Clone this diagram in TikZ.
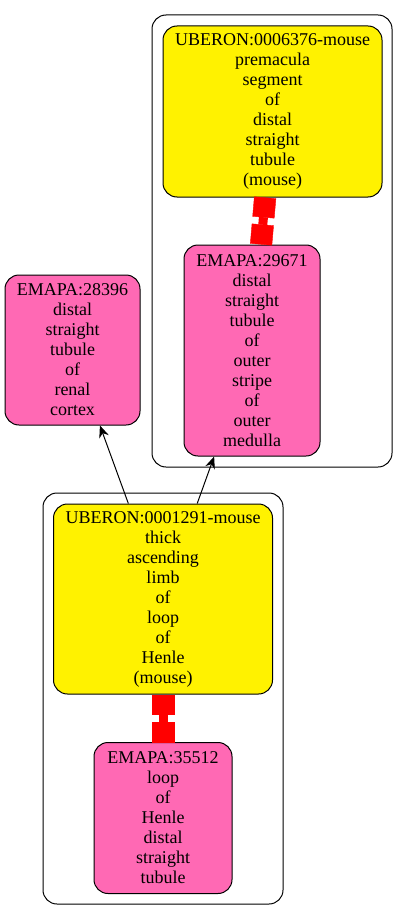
\documentclass[tikz,border=0pt]{standalone}
\usepackage{fontspec}
\setmainfont{Liberation Serif}
\usetikzlibrary{arrows.meta}
\definecolor{hotpink}{HTML}{FF69B4}
\tikzset{>={Stealth[length=12pt,width=10pt]}}
\tikzset{
	term/.style={draw=black, line width=1pt, rounded corners=14pt, align=center, inner sep=0pt,
		font=\fontsize{18}{20}\selectfont},
	uberon/.style={term, fill=yellow},
	emapa/.style={term, fill=hotpink},
	cluster/.style={draw=black, line width=1pt, rounded corners=14pt},
	isa/.style={->, black, line width=1pt},
	xref/.style={red, line width=9pt,
		{Square[length=20pt,width=22pt,line width=0.4pt]}-{Square[length=20pt,width=22pt,line width=0.4pt]}}
}

\begin{document}
\begin{tikzpicture}[x=1pt,y=-1pt]
	\useasboundingbox (0,0) rectangle (408,920);

	% clusters
	\draw[cluster] (152,15) rectangle (392,467);
	\draw[cluster] (43,493) rectangle (283,904);

	\node[uberon, minimum width=219pt, minimum height=171pt] (ub6376) at (272.5,111.5)
		{UBERON:0006376-mouse\\premacula\\segment\\of\\distal\\straight\\tubule\\(mouse)};
	\node[emapa, minimum width=136pt, minimum height=211pt] (em29671) at (252,350.5)
		{EMAPA:29671\\distal\\straight\\tubule\\of\\outer\\stripe\\of\\outer\\medulla};
	\node[emapa, minimum width=135pt, minimum height=150pt] (em28396) at (72.5,350)
		{EMAPA:28396\\distal\\straight\\tubule\\of\\renal\\cortex};
	\node[uberon, minimum width=219pt, minimum height=190pt] (ub1291) at (163,599)
		{UBERON:0001291-mouse\\thick\\ascending\\limb\\of\\loop\\of\\Henle\\(mouse)};
	\node[emapa, minimum width=138pt, minimum height=151pt] (em35512) at (163,818)
		{EMAPA:35512\\loop\\of\\Henle\\distal\\straight\\tubule};

	% edges
	\draw[xref] (ub6376) -- (em29671);
	\draw[xref] (ub1291) -- (em35512);
	\draw[isa] (ub1291) -- (em28396);
	\draw[isa] (ub1291) -- (em29671);
\end{tikzpicture}
\end{document}
